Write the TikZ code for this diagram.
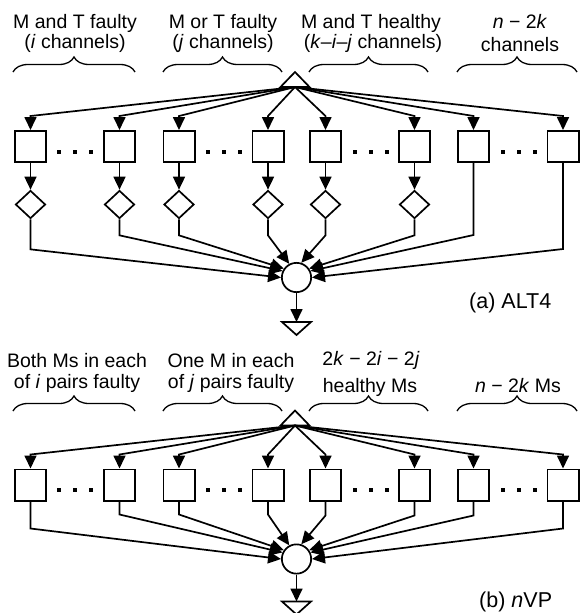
\documentclass[tikz,border=0pt]{standalone}
\usepackage{fontspec}
\setmainfont{Liberation Sans}
\usetikzlibrary{arrows.meta, shapes.geometric, decorations.pathreplacing}
\tikzset{
    unit/.style={draw, minimum size=31.3pt, inner sep=0pt, line width=1.7pt},
    check/.style={draw, diamond, minimum width=30pt, minimum height=28pt, inner sep=0pt, line width=1.7pt},
    voter/.style={draw, circle, minimum size=29.3pt, inner sep=0pt, line width=1.7pt},
    flow/.style={-{Triangle[length=13pt, width=12pt]}, line width=1.7pt},
    bracket/.style={decorate, decoration={brace, amplitude=15pt}, line width=1.3pt},
    txt/.style={anchor=base, inner sep=0pt, font=\fontsize{19.5}{20}\selectfont},
    caption/.style={anchor=base west, inner sep=0pt, font=\fontsize{21.5}{22}\selectfont}
}

\begin{document}
\begin{tikzpicture}[x=1pt, y=-1pt]
    \useasboundingbox (0,0) rectangle (581,613);

    % (a) group labels
    \node[txt] (la1) at (75,28) {M and T faulty};
    \node[txt] (la2) at (75,48) {(\textit{i} channels)};
    \node[txt] (la3) at (223,28) {M or T faulty};
    \node[txt] (la4) at (223,48) {(\textit{j} channels)};
    \node[txt] (la5) at (371,28) {M and T healthy};
    \node[txt] (la6) at (373,48) {(\textit{k}–\textit{i}–\textit{j} channels)};
    \node[txt] (la7) at (520,28) {\textit{n} − 2\textit{k}};
    \node[txt] (la8) at (520,51) {channels};
    % (a) braces
    \foreach \l/\r in {13/135, 163/282, 309/428, 457/577}
        \draw[bracket] (\l,72) -- (\r,72);

    % (a) source
    \coordinate (srcA) at (295,87);
    \draw[line width=1.7pt] (280.5,87) -- (309.5,87) -- (295,72) -- cycle;
    % (a) units
    \foreach \i/\x in {1/30.5, 2/119.5, 3/179, 4/268, 5/325.5, 6/414.5, 7/473.5, 8/563} {
        \node[unit] (a\i) at (\x,146.5) {};
        \draw[flow] (srcA) -- ([yshift=14pt]a\i.north) -- (a\i.north);
    }
    % (a) checks
    \foreach \i/\x in {1/30.5, 2/119.5, 3/179, 4/268, 5/325.5, 6/414.5} {
        \node[check] (c\i) at (\x,204.5) {};
        \draw[flow] (a\i) -- (c\i);
    }
    % dots
    \foreach \m in {75, 223.5, 371, 518.5}
        \foreach \d in {-16, 0, 16}
            \fill ({\m+\d-2},149.5) rectangle ++(4,4);

    % (a) voter and output
    \node[voter] (va) at (296.5,277.5) {};
    \coordinate (outA) at (296.5,322);
    \draw[line width=1.7pt] (282,322) -- (311,322) -- (296.5,335) -- cycle;
    \draw[flow] (va) -- (outA);
    \draw[flow] (c1.south) -- ++(0,30) -- (va.180);
    \foreach \i/\a in {2/155, 3/145, 4/118, 5/72, 6/35}
        \draw[flow] (c\i.south) -- ++(0,16) -- (va.\a);
    \draw[flow] (a7.south) -- ++(0,72) -- (va.25);
    \draw[flow] (a8.south) -- ++(0,86) -- (va.0);
    \node[caption] (capA) at (469,308) {(a) ALT4};

    % (b) group labels
    \node[txt] (lb1) at (77,367) {Both Ms in each};
    \node[txt] (lb2) at (77,388) {of \textit{i} pairs faulty};
    \node[txt] (lb3) at (231,367) {One M in each};
    \node[txt] (lb4) at (231,388) {of \textit{j} pairs faulty};
    \node[txt] (lb5) at (371,365) {2\textit{k} − 2\textit{i} − 2\textit{j}};
    \node[txt] (lb6) at (370,392) {healthy Ms};
    \node[txt] (lb7) at (518,392) {\textit{n} − 2\textit{k} Ms};
    % (b) braces
    \foreach \l/\r in {13/135, 163/282, 309/428, 457/577}
        \draw[bracket] (\l,411) -- (\r,411);

    % (b) source
    \coordinate (srcB) at (295,425.5);
    \draw[line width=1.7pt] (280.5,425.5) -- (309.5,425.5) -- (295,410.5) -- cycle;
    % (b) units
    \foreach \i/\x in {1/30.5, 2/119.5, 3/179, 4/268, 5/325.5, 6/414.5, 7/473.5, 8/563} {
        \node[unit] (b\i) at (\x,485) {};
        \draw[flow] (srcB) -- ([yshift=14pt]b\i.north) -- (b\i.north);
    }
    % dots
    \foreach \m in {75, 223.5, 371, 518.5}
        \foreach \d in {-16, 0, 16}
            \fill ({\m+\d-2},488) rectangle ++(4,4);

    % (b) voter and output
    \node[voter] (vb) at (296.5,559) {};
    \coordinate (outB) at (296.5,601.5);
    \draw[line width=1.7pt] (282,601.5) -- (311,601.5) -- (296.5,614.5) -- cycle;
    \draw[flow] (vb) -- (outB);
    \draw[flow] (b1.south) -- ++(0,27) -- (vb.180);
    \foreach \i/\a/\h in {2/155/13, 3/145/13, 4/118/13, 5/72/14, 6/35/14, 7/25/14}
        \draw[flow] (b\i.south) -- ++(0,\h) -- (vb.\a);
    \draw[flow] (b8.south) -- ++(0,27) -- (vb.0);
    \node[caption] (capB) at (479,607) {(b) \textit{n}VP};
\end{tikzpicture}
\end{document}
